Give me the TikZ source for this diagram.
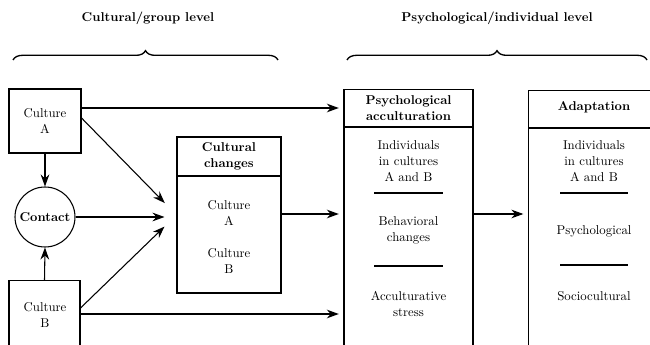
\documentclass[tikz,border=0pt]{standalone}
\usetikzlibrary{arrows.meta,decorations.pathreplacing}
\begin{document}
\begin{tikzpicture}[x=0.75pt,y=-0.75pt,
  every node/.style={font=\fontsize{9.6}{12}\selectfont, align=center, inner sep=0pt},
  box/.style={draw, line width=0.8pt, rectangle},
  ttl/.style={font=\fontsize{9.6}{12}\selectfont\bfseries},
  arr/.style={line width=0.8pt, -{Stealth[length=9pt,width=6.5pt]}},
  sep/.style={line width=0.9pt},
  brc/.style={line width=1pt, decorate, decoration={brace, amplitude=7pt}}]
\useasboundingbox (0,0) rectangle (650,345);
\clip (0,0) rectangle (650,345);

% level titles
\node[ttl] (t1) at (148,18) {Cultural/group level};
\node[ttl] (t2) at (497,18) {Psychological/individual level};
\draw[brc] (13,60) -- (278,60);
\draw[brc] (347,60) -- (647,60);

% left column
\node[box, minimum width=54pt, minimum height=48pt] (ca) at (45,121) {Culture\\A};
\node[draw, line width=0.8pt, circle, minimum size=45pt] (ct) at (45,217) {\bfseries Contact};
\node[box, minimum width=53.25pt, minimum height=60pt, anchor=north] (cb) at (44.5,280) {};
\node (cbt) at (45,315) {Culture\\B};

% cultural changes
\node[box, minimum width=78pt, minimum height=117pt] (cc) at (229,215) {};
\draw[line width=0.8pt] (cc.west |- 0,176) -- (cc.east |- 0,176);
\node[ttl] (cch) at (229,156) {Cultural\\changes};
\node (cca) at (229,213) {Culture\\A};
\node (ccb) at (229,261) {Culture\\B};

% psychological acculturation
\node[box, minimum width=96.75pt, minimum height=210pt, anchor=north] (pa) at (408.5,89) {};
\draw[line width=0.8pt] (pa.west |- 0,127) -- (pa.east |- 0,127);
\node[ttl] (pah) at (408.5,108) {Psychological\\acculturation};
\node (pa1) at (408.5,161) {Individuals\\in cultures\\A and B};
\draw[sep] (374,193) -- (443,193);
\node (pa2) at (408.5,230) {Behavioral\\changes};
\draw[sep] (374,266) -- (443,266);
\node (pa3) at (408.5,303.5) {Acculturative\\stress};

% adaptation
\node[box, minimum width=99pt, minimum height=210pt, anchor=north west] (ad) at (528,90) {};
\draw[line width=0.8pt] (ad.west |- 0,128) -- (ad.east |- 0,128);
\node[ttl] (adh) at (594,107) {Adaptation};
\node (ad1) at (594,161) {Individuals\\in cultures\\A and B};
\draw[sep] (560,193) -- (628,193);
\node (ad2) at (594,231) {Psychological};
\draw[sep] (560,265) -- (628,265);
\node (ad3) at (594,296) {Sociocultural};

% connectors
\draw[arr] (ca.south) -- (ct.north);
\draw[arr] (cb.north) -- (ct.south);
\draw[arr, shorten >=3.5pt] (ca.east |- 0,108) -- (pa.west |- 0,108);
\draw[arr, shorten >=3.5pt] (cb.east |- 0,314) -- (pa.west |- 0,314);
\draw[arr, shorten >=12.5pt] (ca.east |- 0,118) -- (cc.west);
\draw[arr, shorten >=9pt] (ct.east) -- (cc.west |- ct.east);
\draw[arr, shorten >=12.5pt] (cb.east |- 0,308) -- (cc.west);
\draw[arr, shorten >=3.5pt] (cc.east |- 0,214) -- (pa.west |- 0,214);
\draw[arr, shorten >=3.5pt] (pa.east |- 0,214) -- (ad.west |- 0,214);
\end{tikzpicture}
\end{document}
